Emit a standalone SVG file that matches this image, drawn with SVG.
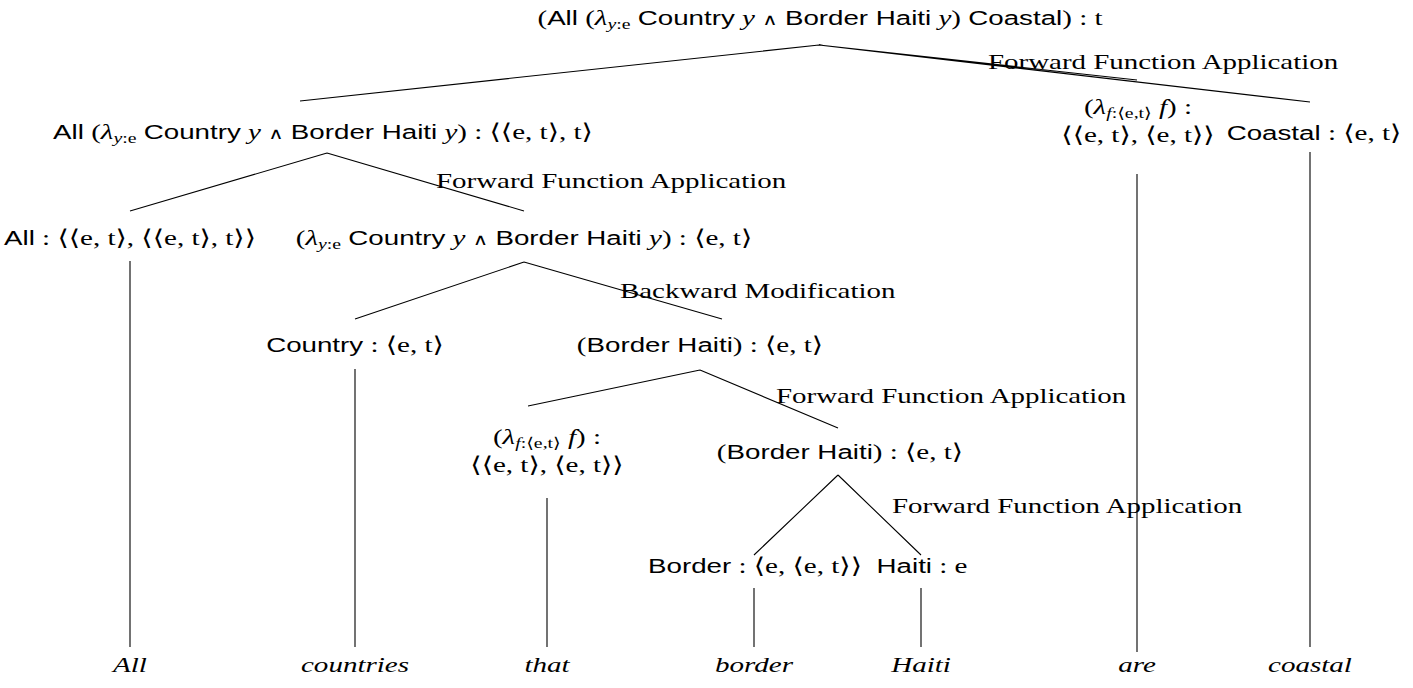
<svg xmlns="http://www.w3.org/2000/svg" width="1413" height="688" viewBox="0 0 1413 688">
  <style>
    text { font-family: "Liberation Serif", "DejaVu Serif", serif; font-size: 22px; fill: #000; }
    .n { text-anchor: middle; }
    .lab { text-anchor: start; }
    .sf { font-family: "Liberation Sans", "DejaVu Sans", sans-serif; font-size: 21px; }
    .it { font-style: italic; }
    .sub { font-size: 15px; }
    .wedge { font-family: "DejaVu Serif", serif; font-size: 16px; }
    .word { font-style: italic; text-anchor: middle; }
    .edge { stroke: #000; stroke-width: 1.1; fill: none; }
  </style>
  <rect width="1413" height="688" fill="#fff"/>

  <!-- connectors -->
  <g id="connectors" class="edge">
    <path d="M819 45 L300 101 M819 45 L1137 80 M819 45 L1310 102"/>
    <path d="M327 153 L130 211 M327 153 L524 211"/>
    <path d="M524 262 L355 319 M524 262 L722 319"/>
    <path d="M700 370 L528 406 M700 370 L838 428"/>
    <path d="M838 475 L754 555 M838 475 L921 555"/>
    <path d="M130 261 V647 M355 369 V647 M547 498 V647 M754 588 V647 M921 588 V647 M1137 174 V652 M1310 152 V647"/>
  </g>

  <!-- rule labels -->
  <g id="rule-labels">
    <text class="lab" transform="translate(988 69) scale(1.315 1)">Forward Function Application</text>
    <text class="lab" transform="translate(436 188) scale(1.315 1)">Forward Function Application</text>
    <text class="lab" transform="translate(620 298) scale(1.315 1)">Backward Modification</text>
    <text class="lab" transform="translate(776 403) scale(1.315 1)">Forward Function Application</text>
    <text class="lab" transform="translate(892 513) scale(1.315 1)">Forward Function Application</text>
  </g>

  <!-- root -->
  <g id="node-root">
    <text class="n" transform="translate(820 25) scale(1.32 1)">(<tspan class="sf">All</tspan> (<tspan class="it">λ</tspan><tspan class="sub it" dy="4">y</tspan><tspan class="sub">:e</tspan><tspan dy="-4"> </tspan><tspan class="sf">Country</tspan> <tspan class="it">y</tspan> <tspan class="wedge">∧</tspan> <tspan class="sf">Border Haiti</tspan> <tspan class="it">y</tspan>) <tspan class="sf">Coastal</tspan>) : t</text>
  </g>

  <g id="node-all-restrictor">
    <text class="n" transform="translate(323 139) scale(1.32 1)"><tspan class="sf">All</tspan> (<tspan class="it">λ</tspan><tspan class="sub it" dy="4">y</tspan><tspan class="sub">:e</tspan><tspan dy="-4"> </tspan><tspan class="sf">Country</tspan> <tspan class="it">y</tspan> <tspan class="wedge">∧</tspan> <tspan class="sf">Border Haiti</tspan> <tspan class="it">y</tspan>) : ⟨⟨e, t⟩, t⟩</text>
  </g>

  <g id="node-are">
    <text class="n" transform="translate(1138 114) scale(1.32 1)">(<tspan class="it">λ</tspan><tspan class="sub" dy="4"><tspan class="it">f</tspan>:⟨e,t⟩</tspan><tspan dy="-4"> </tspan><tspan class="it">f</tspan>) :</text>
    <text class="n" transform="translate(1138 142) scale(1.32 1)">⟨⟨e, t⟩, ⟨e, t⟩⟩</text>
  </g>

  <g id="node-coastal">
    <text class="n" transform="translate(1314 140) scale(1.32 1)"><tspan class="sf">Coastal</tspan> : ⟨e, t⟩</text>
  </g>

  <g id="node-all">
    <text class="n" transform="translate(130 245) scale(1.32 1)"><tspan class="sf">All</tspan> : ⟨⟨e, t⟩, ⟨⟨e, t⟩, t⟩⟩</text>
  </g>

  <g id="node-restrictor">
    <text class="n" transform="translate(524 245) scale(1.32 1)">(<tspan class="it">λ</tspan><tspan class="sub it" dy="4">y</tspan><tspan class="sub">:e</tspan><tspan dy="-4"> </tspan><tspan class="sf">Country</tspan> <tspan class="it">y</tspan> <tspan class="wedge">∧</tspan> <tspan class="sf">Border Haiti</tspan> <tspan class="it">y</tspan>) : ⟨e, t⟩</text>
  </g>

  <g id="node-country">
    <text class="n" transform="translate(355 352) scale(1.32 1)"><tspan class="sf">Country</tspan> : ⟨e, t⟩</text>
  </g>

  <g id="node-border-haiti-rel">
    <text class="n" transform="translate(700 352) scale(1.32 1)">(<tspan class="sf">Border Haiti</tspan>) : ⟨e, t⟩</text>
  </g>

  <g id="node-that">
    <text class="n" transform="translate(547 444) scale(1.32 1)">(<tspan class="it">λ</tspan><tspan class="sub" dy="4"><tspan class="it">f</tspan>:⟨e,t⟩</tspan><tspan dy="-4"> </tspan><tspan class="it">f</tspan>) :</text>
    <text class="n" transform="translate(547 472) scale(1.32 1)">⟨⟨e, t⟩, ⟨e, t⟩⟩</text>
  </g>

  <g id="node-border-haiti">
    <text class="n" transform="translate(840 459) scale(1.32 1)">(<tspan class="sf">Border Haiti</tspan>) : ⟨e, t⟩</text>
  </g>

  <g id="node-border">
    <text class="n" transform="translate(755 573) scale(1.32 1)"><tspan class="sf">Border</tspan> : ⟨e, ⟨e, t⟩⟩</text>
  </g>

  <g id="node-haiti">
    <text class="n" transform="translate(922 573) scale(1.32 1)"><tspan class="sf">Haiti</tspan> : e</text>
  </g>

  <!-- words -->
  <g id="words">
    <text class="word" transform="translate(130 672) scale(1.32 1)">All</text>
    <text class="word" transform="translate(355 672) scale(1.32 1)">countries</text>
    <text class="word" transform="translate(547 672) scale(1.32 1)">that</text>
    <text class="word" transform="translate(754 672) scale(1.32 1)">border</text>
    <text class="word" transform="translate(921 672) scale(1.32 1)">Haiti</text>
    <text class="word" transform="translate(1137 672) scale(1.32 1)">are</text>
    <text class="word" transform="translate(1310 672) scale(1.32 1)">coastal</text>
  </g>
</svg>
